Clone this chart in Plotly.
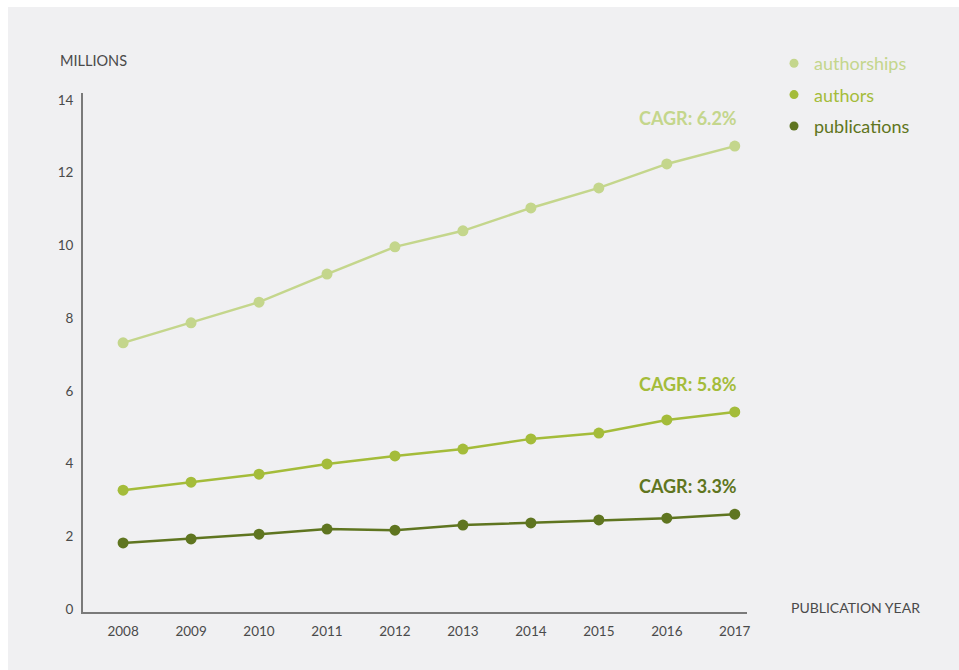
import plotly.graph_objects as go

years = [2008, 2009, 2010, 2011, 2012, 2013, 2014, 2015, 2016, 2017]
authorships = [7.32, 7.87, 8.44, 9.21, 9.96, 10.40, 11.03, 11.58, 12.24, 12.73]
authors = [3.27, 3.49, 3.71, 3.99, 4.21, 4.40, 4.68, 4.84, 5.20, 5.42]
publications = [1.82, 1.93, 2.06, 2.20, 2.17, 2.31, 2.37, 2.45, 2.50, 2.61]
series_names = ["authorships", "authors", "publications"]
cagr_labels = ["CAGR: 6.2%", "CAGR: 5.8%", "CAGR: 3.3%"]
y_ticks = [0, 2, 4, 6, 8, 10, 12, 14]

colors = ["#c4d68c", "#a4bc3a", "#5f7520"]
bg = "#f0f0f2"
FONT = "Lato, 'Open Sans', sans-serif"
TXT = "#4a4a4a"

W, H = 959, 670
ML, MR, MT, MB = 83, 212, 93, 58
PW, PH = W - ML - MR, H - MT - MB

fig = go.Figure()
data = [authorships, authors, publications]
for i, (name, vals) in enumerate(zip(series_names, data)):
    fig.add_trace(go.Scatter(
        x=years, y=vals, mode="lines+markers",
        line=dict(color=colors[i], width=2.5),
        marker=dict(color=colors[i], size=11),
        showlegend=False, hoverinfo="x+y", name=name,
    ))
    # legend entry (markers only)
    fig.add_trace(go.Scatter(
        x=[None], y=[None], mode="markers",
        name=f"<span style='color:{colors[i]}'>{name}</span>",
        marker=dict(color=colors[i], size=9),
        legendgroup=name, showlegend=True,
    ))
    fig.add_annotation(
        x=years[-1], y=vals[-1], text=f"<b>{cagr_labels[i]}</b>",
        showarrow=False, xanchor="right", yanchor="middle",
        xshift=4, yshift=28,
        font=dict(family=FONT, size=18, color=colors[i]),
    )

# axis titles
fig.add_annotation(
    x=-25 / PW, y=1 + (93 - 60) / PH, xref="paper", yref="paper",
    text="MILLIONS", showarrow=False, xanchor="left", yanchor="middle",
    font=dict(family=FONT, size=14.5, color=TXT),
)
fig.add_annotation(
    x=(789 - ML) / PW, y=(612 - 607) / PH, xref="paper", yref="paper",
    text="PUBLICATION YEAR", showarrow=False, xanchor="left", yanchor="middle",
    font=dict(family=FONT, size=14, color=TXT),
)

# white margin strips (top & left)
fig.add_shape(type="rect", xref="paper", yref="paper",
              x0=-ML / PW, x1=(8 - ML) / PW, y0=-MB / PH, y1=1 + MT / PH,
              fillcolor="white", line_width=0, layer="below")
fig.add_shape(type="rect", xref="paper", yref="paper",
              x0=-ML / PW, x1=1 + MR / PW, y0=1 + (MT - 7) / PH, y1=1 + MT / PH,
              fillcolor="white", line_width=0, layer="below")

fig.update_layout(
    width=W, height=H,
    margin=dict(l=ML, r=MR, t=MT, b=MB),
    paper_bgcolor=bg, plot_bgcolor=bg,
    font=dict(family=FONT, size=13, color=TXT),
    showlegend=True,
    legend=dict(
        x=1 + (774 - 747) / PW, y=1 + (93 - 45) / PH,
        xanchor="left", yanchor="top",
        font=dict(family=FONT, size=18),
        bgcolor="rgba(0,0,0,0)",
        tracegroupgap=5,
        itemwidth=30,
    ),
    xaxis=dict(
        range=[2007.41, 2017.18], tickmode="array", tickvals=years,
        showgrid=False, zeroline=False, showline=True, linecolor="#7a7a7a",
        linewidth=2, ticks="", ticklabelstandoff=6,
        tickfont=dict(family=FONT, size=13.5, color=TXT),
    ),
    yaxis=dict(
        range=[-0.08, 14.19], tickmode="array", tickvals=y_ticks,
        showgrid=False, zeroline=False, showline=True, linecolor="#7a7a7a",
        linewidth=2, ticks="", ticklabelstandoff=5,
        tickfont=dict(family=FONT, size=13.5, color=TXT),
    ),
)

fig.write_html("out.html")
